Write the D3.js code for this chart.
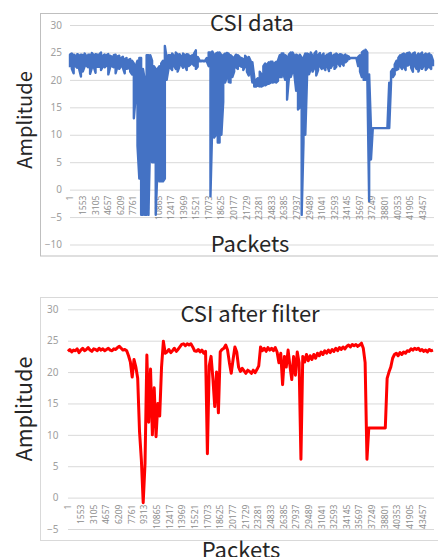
<!DOCTYPE html>
<html>
    <head>
        <meta charset="utf-8">
        <title>CSI data / CSI after filter</title>
        <script type="text/javascript" src="https://d3js.org/d3.v7.min.js"></script>
        <style>
            body { margin: 0; background: #fff; }
            svg { display: block; }
            .grid line { stroke: #d9d9d9; stroke-width: 1; }
            .grid path { display: none; }
            .ytick text { fill: #a0a0a0; font-family: "Noto Sans", sans-serif; font-size: 10px; }
            .xaxis path, .xaxis line { display: none; }
            .xaxis text { fill: #8c8c8c; font-family: "Liberation Sans Narrow", "Noto Sans", sans-serif; font-size: 8.5px; }
            .ttl { fill: #262626; font-family: "Noto Sans CJK JP", "Noto Sans", sans-serif; }
        </style>
    </head>
    <body>
        <div id="container"></div>
        <script>
        //-----------------------------DATA-----------------------------//
        // packet labels on the category axis
        const xTickLabels = [1, 1553, 3105, 4657, 6209, 7761, 9313, 10865, 12417, 13969,
            15521, 17073, 18625, 20177, 21729, 23281, 24833, 26385, 27937, 29489,
            31041, 32593, 34145, 35697, 37249, 38801, 40353, 41905, 43457];
        const packetCount = 44900;
        const packetStep = 225;   // packets between two read-off samples

        const yTicksRaw = [-10, -5, 0, 5, 10, 15, 20, 25, 30];
        const yTicksFiltered = [-5, 0, 5, 10, 15, 20, 25, 30];

        // "CSI data": the raw signal is so dense that each sample covers a
        // vertical band, so it is read off as a low and a high value
        const csiRawLow = [
            22.3, 22.0, 21.2, 22.5, 22.2, 22.0, 20.6, 21.5, 22.4, 22.6,
            22.3, 21.1, 22.2, 22.4, 21.3, 22.4, 22.4, 21.8, 22.5, 22.3,
            22.6, 21.0, 22.3, 22.5, 22.3, 21.2, 22.4, 22.0, 22.5, 22.2,
            21.2, 22.0, 22.1, 21.5, 21.0,
            13.0, 17.0, 8.0, 2.0, -4.6, -4.6, -4.6, -4.6, -4.6, 10.0,
            5.0, 5.0, -4.6, 4.5, 1.5, 1.5, 1.5, 2.0, 20.0, 22.0,
            22.2, 21.8, 22.6, 22.0, 21.5, 22.4, 22.8, 22.2, 22.6, 21.8,
            22.5, 22.8, 23.0, 22.6, 22.0, 22.4, 23.4, 23.4, 23.4, 23.4,
            23.4, 22.5,
            -1.2, 12.0, 9.5, 10.0, 8.6, 8.6, 10.0, 16.0, 19.5,
            20.5, 19.6, 19.5, 20.5, 21.5, 22.3, 22.0, 22.6, 22.4, 21.8,
            22.5, 21.5, 20.8, 21.8, 19.5,
            18.8, 18.8, 18.9, 18.8, 18.8, 19.0, 19.0, 19.2, 19.3, 19.5,
            19.5, 19.6, 19.5, 19.8, 20.5,
            20.5, 21.0, 20.0, 16.4, 20.3, 20.5, 21.5, 21.0, 18.0, 14.6,
            15.0, -4.6, 8.6, 10.0, 21.0,
            21.0, 22.0, 21.5, 22.2, 20.8, 21.8, 22.5, 22.0, 22.3, 21.8,
            22.6, 21.6, 22.2, 22.8, 22.0, 22.4, 23.0, 22.5, 23.0, 22.6,
            23.2, 23.5, 23.8, 24.0, 24.0, 24.0, 24.0, 22.5, 21.5, 20.5,
            20.0, 20.0, 20.5,
            -2.1, 5.5, 11.2, 11.2, 11.2, 11.2, 11.2, 11.2, 11.2, 11.2, 11.2,
            11.2, 19.5, 20.5, 21.0, 21.8, 22.0, 22.5, 22.0, 22.4, 21.8,
            22.6, 22.8, 22.2, 21.5, 22.6, 22.0, 21.5, 22.4, 22.0, 22.6,
            21.8, 22.2, 22.4, 22.0, 22.5
        ];
        const csiRawHigh = [
            24.6, 24.8, 24.6, 24.4, 24.7, 24.5, 24.6, 24.5, 24.8, 24.3,
            24.6, 24.6, 24.9, 24.5, 24.7, 24.6, 24.6, 25.0, 24.4, 24.6,
            24.5, 24.7, 24.4, 24.2, 24.5, 24.6, 24.3, 24.4, 24.0, 24.2,
            23.8, 24.0, 23.6, 23.8, 23.5,
            23.0, 22.5, 23.5, 24.0, 24.0, 22.0, 20.0, 24.5, 24.5, 24.5,
            23.5, 22.5, 22.0, 22.0, 22.5, 23.0, 23.5, 26.2, 24.0, 24.5,
            24.5, 24.8, 24.4, 25.0, 24.6, 24.7, 24.3, 24.8, 24.5, 24.7,
            24.6, 24.3, 24.5, 24.8, 25.4, 24.2, 23.6, 23.5, 23.5, 23.5,
            24.0, 25.0,
            25.0, 25.2, 24.5, 24.8, 25.0, 25.0, 24.5, 24.5, 24.8,
            24.9, 24.8, 24.5, 24.2, 24.0, 24.6, 24.5, 24.2, 24.0, 23.8,
            24.4, 24.0, 24.2, 23.5, 23.2,
            20.5, 20.0, 20.3, 21.5, 21.0, 22.5, 23.0, 22.8, 23.2, 23.3,
            23.3, 23.0, 23.3, 23.5, 24.5,
            24.8, 24.8, 24.5, 24.2, 24.6, 25.0, 25.0, 24.4, 24.6, 24.4,
            24.6, 24.0, 24.0, 24.8, 24.8,
            24.6, 25.0, 24.3, 24.8, 25.2, 24.5, 24.9, 24.4, 24.8, 24.3,
            24.6, 24.8, 24.9, 24.4, 24.6, 24.8, 24.5, 24.7, 24.6, 24.4,
            24.6, 24.4, 24.2, 24.0, 24.0, 24.0, 24.0, 24.2, 24.5, 25.0,
            25.3, 25.5, 25.0,
            21.0, 11.2, 11.2, 11.2, 11.2, 11.2, 11.2, 11.2, 11.2, 11.2, 11.2,
            19.5, 21.5, 22.0, 22.8, 23.5, 24.0, 24.5, 24.6, 24.8, 24.6,
            24.9, 25.0, 24.5, 24.8, 25.0, 24.4, 24.8, 24.6, 25.0, 24.5,
            24.8, 24.6, 24.8, 24.5, 23.5
        ];

        const csiFiltered = [
            23.3, 23.6, 23.2, 23.5, 23.4, 23.7, 23.1, 23.5, 23.8, 23.4,
            23.6, 23.9, 23.5, 23.3, 23.7, 23.6, 23.4, 23.8, 23.5, 23.7,
            23.4, 23.6, 23.8, 23.5, 23.4, 23.7, 23.6, 23.9, 24.1, 23.8,
            23.5, 23.6,
            23.4, 22.6, 21.6, 19.2, 22.0, 20.8, 19.0, 10.5, 6.0, -0.8,
            5.5, 22.7, 12.0, 20.5, 10.0, 17.5, 9.7, 15.0, 13.0, 20.8,
            24.9, 23.0,
            23.2, 23.6, 23.1, 23.4, 23.8, 23.3, 23.6, 24.0, 24.4, 24.5,
            24.2, 24.5, 24.3, 24.5, 24.0, 23.4, 23.3, 23.6, 23.2, 23.5,
            23.0, 23.3,
            7.0, 21.0, 22.5, 19.0, 14.5, 20.0, 13.5, 23.2, 23.6, 23.8,
            24.3, 23.5, 21.5, 19.8, 22.0, 24.0, 23.2, 20.8, 20.1, 20.6,
            20.2, 19.8, 20.3, 20.1, 19.8, 20.3, 19.9, 20.4, 21.0,
            24.0, 23.4, 23.8, 23.3, 23.9, 23.5, 23.8, 23.4, 23.9, 23.2,
            21.5, 23.0, 18.0, 22.5, 20.8, 23.5, 21.0, 18.8, 22.5, 19.5,
            23.2, 21.5, 6.1, 22.5, 21.6, 22.8, 21.8, 22.6, 22.0, 22.8,
            22.2, 23.0,
            22.6, 23.2, 22.8, 23.4, 23.0, 23.5, 23.1, 23.6, 23.3, 23.8,
            23.4, 23.9, 23.6, 24.0, 23.7, 24.1, 24.3, 24.0, 24.4, 24.2,
            24.4, 24.1, 24.3, 24.6, 23.8, 21.5,
            6.1, 11.1, 11.1, 11.1, 11.1, 11.1, 11.1, 11.1, 11.1, 11.1, 11.1,
            19.0, 20.0, 20.8, 22.2, 22.8, 23.0, 22.6, 23.1, 22.8, 23.2,
            23.0, 23.4, 23.3, 23.7, 23.5, 23.8, 23.6, 23.8, 23.4, 23.6,
            23.3, 23.5, 23.2, 23.6, 23.4, 23.5
        ];

        //-----------------------------SVG------------------------------//
        const svg = d3.select("div#container").append("svg")
            .attr("width", 438)
            .attr("height", 557);

        const charts = [
            {
                title: "CSI data", low: csiRawLow, high: csiRawHigh, yTicks: yTicksRaw,
                color: "#4472c4", lineWidth: 2.4,
                frame: [40.5, 13.5, 242.5], frameColor: "#bfbfbf",
                left: 70, right: 434, yTop: 25, yBottom: 244.5, labelPad: 8, xLabelGap: 6,
                titlePos: [252, 31], xTitlePos: [250, 252], yTitlePos: [32, 120], yTitleSize: 20
            },
            {
                title: "CSI after filter", low: csiFiltered, high: csiFiltered, yTicks: yTicksFiltered,
                color: "#ff0000", lineWidth: 3,
                frame: [40.5, 297.5, 243], frameColor: "#d9d9d9",
                left: 68, right: 434, yTop: 309.3, yBottom: 529, labelPad: 9.5, xLabelGap: 7,
                titlePos: [250, 322], xTitlePos: [241, 558], yTitlePos: [32, 409], yTitleSize: 21.5
            }
        ];

        charts.forEach(function(c) {
            const g = svg.append("g");

            // chart frame
            g.append("rect")
                .attr("x", c.frame[0])
                .attr("y", c.frame[1])
                .attr("width", 500)
                .attr("height", c.frame[2])
                .attr("fill", "none")
                .attr("stroke", c.frameColor);

            //----------------------------SCALES----------------------------//
            const xScale = d3.scaleLinear().domain([1, packetCount]).range([c.left, c.right]);
            const yScale = d3.scaleLinear()
                .domain([d3.min(c.yTicks), d3.max(c.yTicks)])
                .range([c.yBottom, c.yTop]);

            //-----------------------------AXES-----------------------------//
            g.append("g")
                .attr("class", "grid ytick")
                .attr("transform", "translate(" + c.left + ",0)")
                .call(d3.axisLeft(yScale)
                    .tickValues(c.yTicks)
                    .tickSizeInner(-(c.right - c.left))
                    .tickSizeOuter(0)
                    .tickPadding(c.labelPad));

            g.append("g")
                .attr("class", "xaxis")
                .attr("transform", "translate(0," + yScale(0) + ")")
                .call(d3.axisBottom(xScale).tickValues(xTickLabels).tickFormat(d3.format("d")).tickSize(0))
                .selectAll("text")
                .attr("transform", "rotate(-90)")
                .attr("x", -c.xLabelGap)
                .attr("y", 0)
                .attr("dy", "0.35em")
                .style("text-anchor", "end");

            //----------------------------LINE------------------------------//
            // each sample is drawn as a low-high stroke, alternating direction
            const points = c.low.flatMap(function(lo, i) {
                const packet = 1 + i * packetStep;
                const hi = c.high[i];
                return i % 2 ? [[packet, hi], [packet, lo]] : [[packet, lo], [packet, hi]];
            });

            const line = d3.line()
                .x(function(d) { return xScale(d[0]); })
                .y(function(d) { return yScale(d[1]); });

            g.append("path")
                .datum(points)
                .attr("fill", "none")
                .attr("stroke", c.color)
                .attr("stroke-width", c.lineWidth)
                .attr("stroke-linejoin", "round")
                .attr("d", line);

            //----------------------------TITLES----------------------------//
            g.append("text")
                .attr("class", "ttl")
                .attr("x", c.titlePos[0])
                .attr("y", c.titlePos[1])
                .attr("text-anchor", "middle")
                .style("font-size", "22px")
                .text(c.title);

            g.append("text")
                .attr("class", "ttl")
                .attr("x", c.xTitlePos[0])
                .attr("y", c.xTitlePos[1])
                .attr("text-anchor", "middle")
                .style("font-size", "22px")
                .text("Packets");

            g.append("text")
                .attr("class", "ttl")
                .attr("transform", "translate(" + c.yTitlePos[0] + "," + c.yTitlePos[1] + ") rotate(-90)")
                .attr("text-anchor", "middle")
                .style("font-size", c.yTitleSize + "px")
                .text("Amplitude");
        });
        </script>
    </body>
</html>
